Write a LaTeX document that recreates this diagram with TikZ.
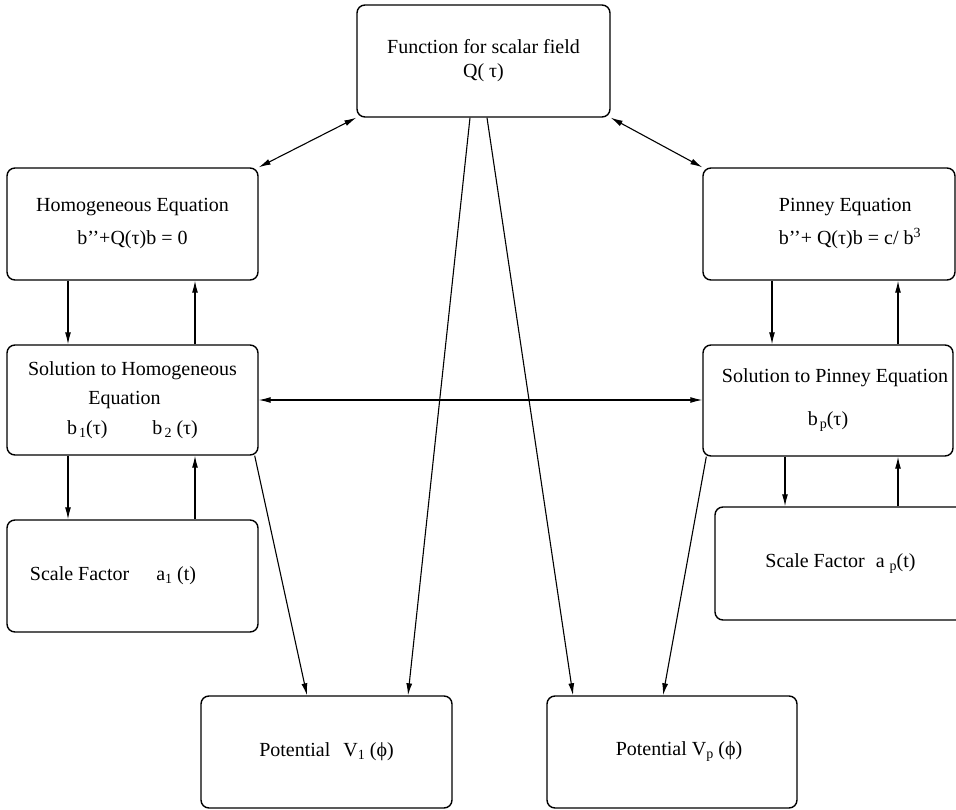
\documentclass[tikz,border=0pt]{standalone}
\usepackage{fontspec}
\setmainfont{Liberation Serif}
\usetikzlibrary{arrows.meta,calc}
\newcommand\lowsub[1]{\raisebox{-0.32ex}{\fontsize{14}{14}\selectfont #1}}
\begin{document}
\begin{tikzpicture}[x=1pt,y=-1pt,
  box/.style={draw, line width=1.4pt, rounded corners=8pt, inner sep=0pt, align=center,
              font=\fontsize{20}{24}\selectfont},
  arr/.style={-{Latex[length=12pt,width=6pt]}, line width=1.1pt},
  darr/.style={{Latex[length=12pt,width=6pt]}-{Latex[length=12pt,width=6pt]}, line width=1.1pt}]
\useasboundingbox (0,0) rectangle (956,810);
% boxes
\node[box, minimum width=253pt, minimum height=112pt] (top) at (483.5,61)
  {Function for scalar field\\Q( τ)};
\node[box, minimum width=251pt, minimum height=112pt] (homog) at (132.5,224)
  {Homogeneous Equation\\[9pt]b’’+Q(τ)b = 0};
\node[box, align=left, minimum width=252pt, minimum height=112pt] (pinney) at (829,224)
  {\kern42pt Pinney Equation\\[9pt]\kern42pt b’’+ Q(τ)b = c/ b\textsuperscript{3}};
\node[box, minimum width=251pt, minimum height=110pt] (solh) at (132.5,400)
  {Solution to Homogeneous\\[5pt]Equation\kern16pt\\[6pt]b\kern2pt\lowsub{1}(τ)\hspace{45pt}b\kern2pt\lowsub{2} (τ)};
\node[box, minimum width=250pt, minimum height=111pt] (solp) at (828,400.5)
  {\kern14pt Solution to Pinney Equation\\[19pt]b\kern2pt\lowsub{p}(τ)};
\node[box, minimum width=251pt, minimum height=112pt] (sca1) at (132.5,576)
  {Scale Factor\hspace{27pt}a\lowsub{1} (t)\kern39pt};
\node[box, minimum width=251pt, minimum height=113pt] (scap) at (840.5,563.5)
  {Scale Factor\hspace{11pt}a\kern5pt\lowsub{p}(t)};
\node[box, minimum width=251pt, minimum height=112pt] (v1) at (326.5,752)
  {Potential\hspace{13pt}V\lowsub{1} (ϕ)};
\node[box, minimum width=250pt, minimum height=112pt] (vp) at (672,752)
  {\kern14pt Potential V\lowsub{p} (ϕ)};
% x positions of vertical connectors
\coordinate (xa) at (68,0);
\coordinate (xb) at (195,0);
\coordinate (xc) at (772,0);
\coordinate (xd) at (898,0);
\coordinate (xe) at (785,0);
% connectors
\draw[darr] (top.south west) -- (homog.north east);
\draw[darr] (top.south east) -- (pinney.north west);
\draw[arr] (homog.south -| xa) -- (solh.north -| xa);
\draw[arr] (solh.north -| xb) -- (homog.south -| xb);
\draw[arr] (pinney.south -| xc) -- (solp.north -| xc);
\draw[arr] (solp.north -| xd) -- (pinney.south -| xd);
\draw[arr] (solh.south -| xa) -- (sca1.north -| xa);
\draw[arr] (sca1.north -| xb) -- (solh.south -| xb);
\draw[arr] (solp.south -| xe) -- (scap.north -| xe);
\draw[arr] (scap.north -| xd) -- (solp.south -| xd);
\draw[darr] (solh.east) -- (solp.west |- solh.east);
\draw[arr] ([xshift=-13.5pt]top.south) -- ([xshift=81.5pt]v1.north);
\draw[arr] ([xshift=3.5pt]top.south) -- ([xshift=-99pt]vp.north);
\draw[arr] ([xshift=-4pt]solh.south east) -- ([xshift=-19.5pt]v1.north);
\draw[arr] ([xshift=4pt]solp.south west) -- ([xshift=-9pt]vp.north);
\end{tikzpicture}
\end{document}
